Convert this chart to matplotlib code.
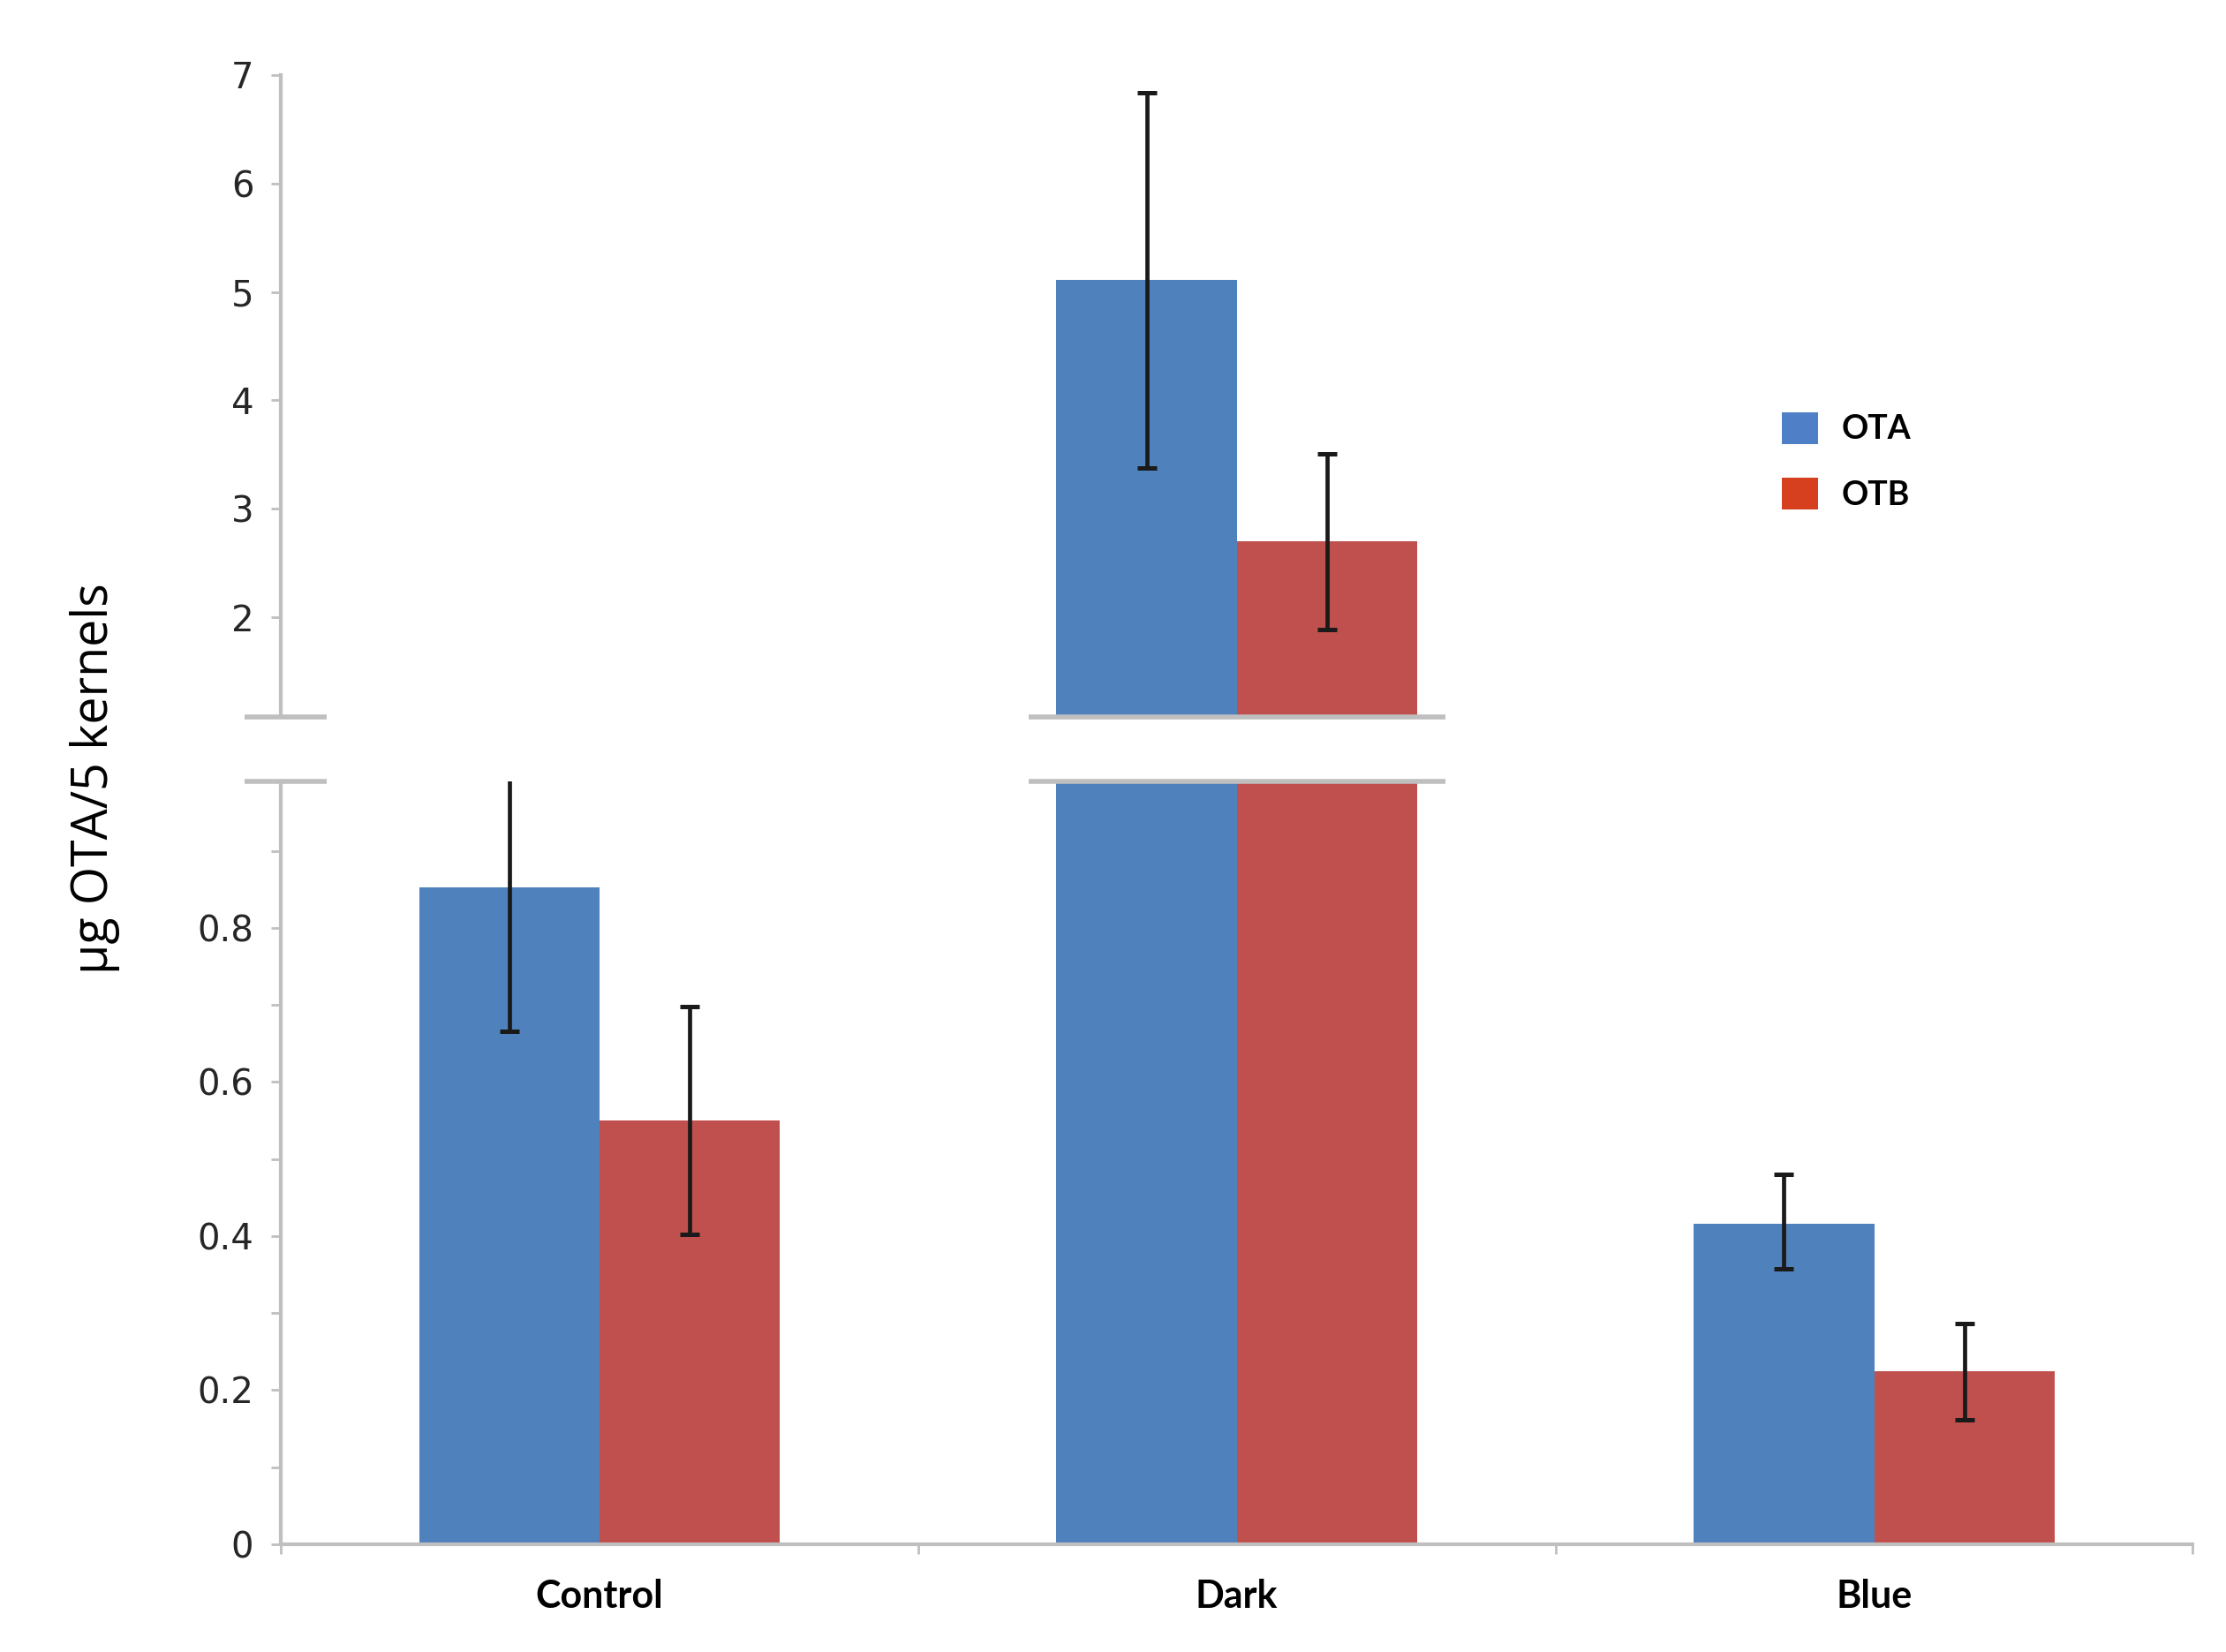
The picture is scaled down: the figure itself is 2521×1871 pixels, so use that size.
import matplotlib
matplotlib.use("Agg")
import matplotlib.pyplot as plt
import matplotlib.ticker as ticker
from matplotlib.patches import Patch
import numpy as np

# values
groups = ["Control", "Dark", "Blue"]
series = ["OTA", "OTB"]
ota_mean = [0.852, 5.11, 0.416]
ota_err_low = [0.186, 1.73, 0.058]
ota_err_high = [0.144, 1.73, 0.064]
otb_mean = [0.550, 2.70, 0.225]
otb_err_low = [0.148, 0.81, 0.064]
otb_err_high = [0.148, 0.81, 0.061]

upper_ticks = [2, 3, 4, 5, 6, 7]
lower_ticks = [0, 0.2, 0.4, 0.6, 0.8]

blue = "#4F81BD"
red = "#C0504D"
axis_gray = "#BFBFBF"
narrow_bold = ["Liberation Sans Narrow", "Lato", "DejaVu Sans"]

fig = plt.figure(figsize=(25.21, 18.71), dpi=100)
ax_top = fig.add_axes([0.1261, 0.566, 0.859, 0.3886])
ax_bot = fig.add_axes([0.1261, 0.0652, 0.859, 0.4618])

x = np.arange(len(groups))
width = 0.283
err_kw = dict(ecolor="#1a1a1a", elinewidth=3.4, capsize=8, capthick=3.6)

for axes in (ax_top, ax_bot):
    axes.bar(x - width / 2, ota_mean, width, color=blue,
             yerr=[ota_err_low, ota_err_high], error_kw=err_kw)
    axes.bar(x + width / 2, otb_mean, width, color=red,
             yerr=[otb_err_low, otb_err_high], error_kw=err_kw)
    axes.set_xlim(-0.5, 2.5)
    for side in ("top", "right"):
        axes.spines[side].set_visible(False)
    axes.spines["left"].set_color(axis_gray)
    axes.spines["left"].set_linewidth(3)
    axes.tick_params(axis="y", which="both", direction="out", length=8, width=2,
                     color=axis_gray, labelsize=29, labelcolor="#262626", pad=14)

# upper part of the broken axis
ax_top.set_ylim(1.08, 7)
ax_top.set_yticks(upper_ticks)
ax_top.set_yticklabels([str(t) for t in upper_ticks], family="DejaVu Sans")
ax_top.spines["bottom"].set_visible(False)
ax_top.set_xticks([])

# lower part
ax_bot.set_ylim(0, 0.99)
ax_bot.set_yticks(lower_ticks)
ax_bot.set_yticklabels(["0", "0.2", "0.4", "0.6", "0.8"], family="DejaVu Sans")
ax_bot.yaxis.set_minor_locator(ticker.FixedLocator([0.1, 0.3, 0.5, 0.7, 0.9]))
ax_bot.spines["bottom"].set_color(axis_gray)
ax_bot.spines["bottom"].set_linewidth(3)
ax_bot.set_xticks([-0.5, 0.5, 1.5, 2.5])
ax_bot.set_xticklabels([])
ax_bot.set_xticks(x, minor=True)
ax_bot.set_xticklabels(groups, minor=True, fontsize=31, fontweight="bold",
                       family=narrow_bold)
ax_bot.tick_params(axis="x", which="major", direction="out", length=8, width=2,
                   color=axis_gray)
ax_bot.tick_params(axis="x", which="minor", length=0, pad=28)

# break marks
for lo, hi in [(-0.557, -0.428), (0.674, 1.327)]:
    ax_top.plot([lo, hi], [1.08, 1.08], color=axis_gray, lw=4, clip_on=False,
                solid_capstyle="butt", zorder=5)
    ax_bot.plot([lo, hi], [0.99, 0.99], color=axis_gray, lw=4, clip_on=False,
                solid_capstyle="butt", zorder=5)

fig.text(0.0428, 0.529, "µg OTA/5 kernels", rotation=90, ha="center",
         va="center", fontsize=40, family=["Open Sans", "DejaVu Sans"])

handles = [Patch(facecolor="#4F7FC6"), Patch(facecolor="#D6401F")]
fig.legend(handles, series, loc="center left", bbox_to_anchor=(0.8005, 0.721),
           frameon=False, borderpad=0, borderaxespad=0, handlelength=1.1,
           handleheight=1.1, handletextpad=0.7, labelspacing=1.0,
           prop={"family": narrow_bold, "weight": "bold", "size": 27})

fig.savefig("out.png", dpi=100, facecolor="white")
